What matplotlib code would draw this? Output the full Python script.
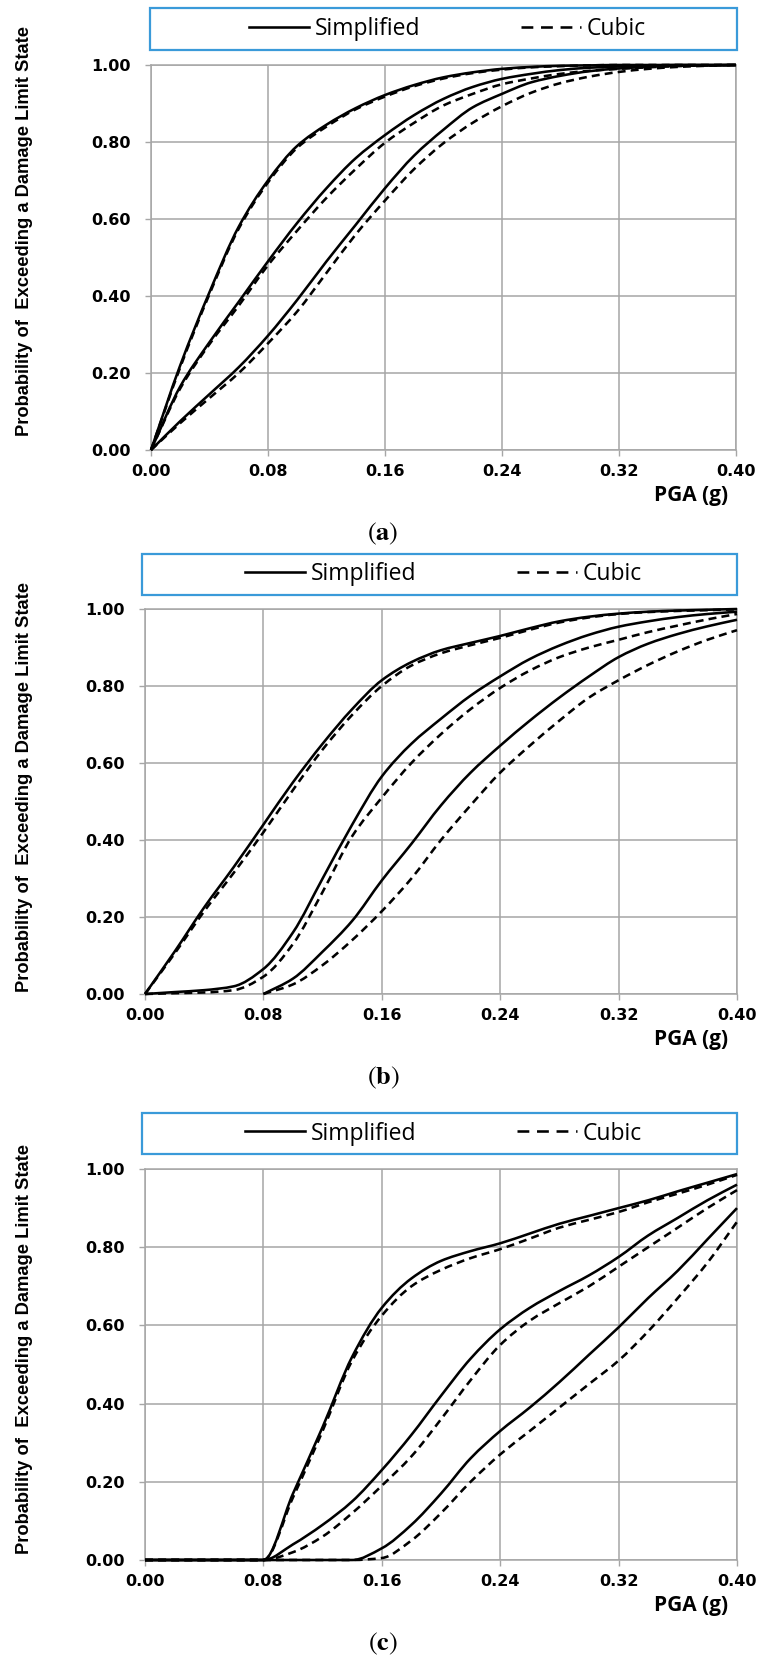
import matplotlib
matplotlib.use("Agg")
import numpy as np
import matplotlib.pyplot as plt
from matplotlib.lines import Line2D
from matplotlib.patches import Rectangle, PathPatch
from matplotlib.path import Path
from matplotlib import font_manager as fm

# ---------------- data ----------------
pga = [0.00, 0.02, 0.04, 0.06, 0.08, 0.10, 0.12, 0.14, 0.16, 0.18, 0.20,
       0.22, 0.24, 0.26, 0.28, 0.30, 0.32, 0.34, 0.36, 0.38, 0.40]
pga_late = [0.08, 0.10, 0.12, 0.14, 0.16, 0.18, 0.20, 0.22, 0.24, 0.26,
            0.28, 0.30, 0.32, 0.34, 0.36, 0.38, 0.40]

# panel (a)
a_simplified_1 = [0, 0.22, 0.41, 0.58, 0.70, 0.79, 0.845, 0.888, 0.922, 0.948, 0.968,
                  0.981, 0.99, 0.995, 0.998, 0.999, 1.0, 1.0, 1.0, 1.0, 1.0]
a_cubic_1 = [0, 0.215, 0.405, 0.575, 0.695, 0.785, 0.84, 0.885, 0.918, 0.945, 0.965,
             0.979, 0.988, 0.994, 0.997, 0.999, 1.0, 1.0, 1.0, 1.0, 1.0]
a_simplified_2 = [0, 0.165, 0.28, 0.385, 0.49, 0.59, 0.68, 0.758, 0.818, 0.87, 0.912,
                  0.943, 0.964, 0.977, 0.987, 0.993, 0.996, 0.998, 1.0, 1.0, 1.0]
a_cubic_2 = [0, 0.16, 0.275, 0.375, 0.48, 0.57, 0.655, 0.73, 0.798, 0.85, 0.895,
             0.925, 0.95, 0.965, 0.977, 0.985, 0.99, 0.994, 0.997, 0.999, 1.0]
a_simplified_3 = [0, 0.075, 0.145, 0.215, 0.297, 0.39, 0.49, 0.585, 0.68, 0.765, 0.832,
                  0.89, 0.925, 0.955, 0.972, 0.984, 0.991, 0.995, 0.998, 0.999, 1.0]
a_cubic_3 = [0, 0.07, 0.135, 0.2, 0.277, 0.36, 0.46, 0.56, 0.648, 0.73, 0.797,
             0.85, 0.893, 0.928, 0.953, 0.97, 0.982, 0.99, 0.995, 0.998, 1.0]

# panel (b)
b_simplified_1 = [0, 0.11, 0.225, 0.33, 0.44, 0.55, 0.65, 0.74, 0.815, 0.862, 0.893,
                  0.912, 0.93, 0.95, 0.968, 0.98, 0.988, 0.993, 0.996, 0.998, 1.0]
b_cubic_1 = [0, 0.105, 0.215, 0.315, 0.42, 0.53, 0.635, 0.725, 0.80, 0.853, 0.885,
             0.906, 0.925, 0.946, 0.965, 0.978, 0.987, 0.992, 0.995, 0.997, 0.999]
b_simplified_2 = [0, 0.005, 0.01, 0.02, 0.065, 0.16, 0.30, 0.44, 0.565, 0.65, 0.715,
                  0.775, 0.825, 0.87, 0.905, 0.933, 0.954, 0.968, 0.979, 0.987, 0.993]
b_cubic_2 = [0, 0.002, 0.004, 0.01, 0.045, 0.13, 0.265, 0.41, 0.51, 0.60, 0.675,
             0.74, 0.795, 0.84, 0.875, 0.90, 0.92, 0.94, 0.957, 0.973, 0.987]
b_simplified_3 = [0.0, 0.04, 0.11, 0.19, 0.295, 0.39, 0.49, 0.575, 0.645, 0.71,
                  0.77, 0.825, 0.875, 0.91, 0.935, 0.955, 0.972]
b_cubic_3 = [0.0, 0.025, 0.075, 0.14, 0.215, 0.30, 0.40, 0.49, 0.575, 0.645,
             0.71, 0.77, 0.815, 0.855, 0.89, 0.92, 0.945]

# panel (c)
c_simplified_1 = [0, 0, 0, 0, 0, 0.17, 0.34, 0.52, 0.645, 0.72, 0.765,
                  0.79, 0.81, 0.835, 0.86, 0.88, 0.90, 0.92, 0.943, 0.965, 0.987]
c_cubic_1 = [0, 0, 0, 0, 0, 0.16, 0.33, 0.51, 0.625, 0.70, 0.742,
             0.772, 0.795, 0.822, 0.85, 0.87, 0.89, 0.915, 0.937, 0.96, 0.985]
c_simplified_2 = [0, 0, 0, 0, 0, 0.04, 0.09, 0.15, 0.23, 0.32, 0.42,
                  0.515, 0.59, 0.645, 0.688, 0.728, 0.775, 0.83, 0.875, 0.92, 0.96]
c_cubic_2 = [0, 0, 0, 0, 0, 0.02, 0.06, 0.12, 0.19, 0.265, 0.36,
             0.46, 0.55, 0.612, 0.657, 0.70, 0.75, 0.80, 0.85, 0.90, 0.946]
c_simplified_3 = [0, 0, 0, 0, 0, 0, 0, 0, 0.03, 0.09, 0.17,
                  0.26, 0.33, 0.39, 0.455, 0.525, 0.595, 0.67, 0.74, 0.82, 0.90]
c_cubic_3 = [0, 0, 0, 0, 0, 0, 0, 0, 0.005, 0.05, 0.12,
             0.20, 0.27, 0.33, 0.39, 0.45, 0.51, 0.585, 0.67, 0.76, 0.865]

x_ticks = [0.00, 0.08, 0.16, 0.24, 0.32, 0.40]
x_tick_labels = ["0.00", "0.08", "0.16", "0.24", "0.32", "0.40"]
y_ticks = [0.0, 0.2, 0.4, 0.6, 0.8, 1.0]
y_tick_labels = ["0.00", "0.20", "0.40", "0.60", "0.80", "1.00"]
series_names = ["Simplified", "Cubic"]
x_title = "PGA (g)"
y_title = "Probability of  Exceeding a Damage Limit State"
captions = ["a", "b", "c"]

# ---------------- styling ----------------
W, H = 761, 1657
plt.rcParams["mathtext.fontset"] = "stix"
names = {f.name for f in fm.fontManager.ttflist}
narrow = "Liberation Sans Narrow" if "Liberation Sans Narrow" in names else "Liberation Sans"
legend_font = "Open Sans" if "Open Sans" in names else "DejaVu Sans"

GRID = "#A6A6A6"
BLUE = "#3A9AD9"
LW = 1.85
DASH = (0, (3.1, 2.0))

fig = plt.figure(figsize=(W / 100, H / 100), dpi=100)


def fig_rect(l, t, r, b):
    return [l / W, 1 - b / H, (r - l) / W, (b - t) / H]


def smooth_path(xs, ys):
    """Excel-style smoothed line: monotone cubic Hermite drawn as Bezier segments."""
    x = np.asarray(xs, float)
    y = np.asarray(ys, float)
    h = np.diff(x)
    d = np.diff(y) / h
    m = np.zeros_like(y)
    m[0], m[-1] = d[0], d[-1]
    for k in range(1, len(x) - 1):
        if d[k - 1] * d[k] <= 0:
            m[k] = 0.0
        else:
            w1 = 2 * h[k] + h[k - 1]
            w2 = h[k] + 2 * h[k - 1]
            m[k] = (w1 + w2) / (w1 / d[k - 1] + w2 / d[k])
    verts = [(x[0], y[0])]
    codes = [Path.MOVETO]
    for k in range(len(x) - 1):
        verts += [(x[k] + h[k] / 3, y[k] + m[k] * h[k] / 3),
                  (x[k + 1] - h[k] / 3, y[k + 1] - m[k + 1] * h[k] / 3),
                  (x[k + 1], y[k + 1])]
        codes += [Path.CURVE4] * 3
    return Path(verts, codes)


panels = [
    dict(ax=(151, 65, 736, 450), leg=(150, 8, 737, 50), ydy=-27,
         curves=[(pga, a_simplified_1, a_cubic_1, pga),
                 (pga, a_simplified_2, a_cubic_2, pga),
                 (pga, a_simplified_3, a_cubic_3, pga)]),
    dict(ax=(145, 609, 737, 994), leg=(142, 554, 737, 595), ydy=-15,
         curves=[(pga, b_simplified_1, b_cubic_1, pga),
                 (pga, b_simplified_2, b_cubic_2, pga),
                 (pga_late, b_simplified_3, b_cubic_3, pga_late)]),
    dict(ax=(145, 1169, 737, 1560), leg=(142, 1113, 737, 1154), ydy=-15,
         curves=[(pga, c_simplified_1, c_cubic_1, pga),
                 (pga, c_simplified_2, c_cubic_2, pga),
                 (pga, c_simplified_3, c_cubic_3, pga)]),
]

ylabels = []
for i, p in enumerate(panels):
    l, t, r, b = p["ax"]
    ax = fig.add_axes(fig_rect(l, t, r, b))
    for xs, ys_s, ys_c, xc in p["curves"]:
        ax.add_patch(PathPatch(smooth_path(xs, ys_s), fill=False, edgecolor="black",
                               lw=LW, capstyle="butt", zorder=3, clip_on=False))
        ax.add_patch(PathPatch(smooth_path(xc, ys_c), fill=False, edgecolor="black",
                               lw=LW, linestyle=DASH, zorder=3, clip_on=False))
    ax.set_xlim(0, 0.40)
    ax.set_ylim(0, 1.0)
    ax.set_xticks(x_ticks, labels=x_tick_labels, fontweight="bold")
    ax.set_yticks(y_ticks, labels=y_tick_labels, fontweight="bold")
    ax.tick_params(axis="x", length=4, width=1.0, color=GRID, pad=6,
                   labelsize=11.5, labelcolor="black")
    ax.tick_params(axis="y", length=4.5, width=1.0, color=GRID, pad=10,
                   labelsize=11.5, labelcolor="black")
    ax.grid(True, color=GRID, lw=1.1)
    ax.set_axisbelow(True)
    for s in ax.spines.values():
        s.set_color(GRID)
        s.set_linewidth(1.1)

    # legend frame + legend
    ll, lt, lr, lb = p["leg"]
    fig.add_artist(Rectangle((ll / W, 1 - lb / H), (lr - ll) / W, (lb - lt) / H,
                             transform=fig.transFigure, facecolor="white",
                             edgecolor=BLUE, lw=1.6))
    h1 = Line2D([], [], color="black", lw=LW)
    h2 = Line2D([], [], color="black", lw=LW, linestyle=(0, (4.6, 3.0)))
    fig.legend([h1, h2], series_names, loc="center",
               bbox_to_anchor=((ll + lr) / 2 / W + 4 / W, 1 - (lt + lb) / 2 / H),
               bbox_transform=fig.transFigure, ncol=2, frameon=False,
               handlelength=2.6, handletextpad=0.25, columnspacing=4.4,
               prop=dict(family=legend_font, size=16.5))

    # x title
    fig.text(728 / W, 1 - (b + 45) / H, x_title, ha="right", va="center",
             family=legend_font, fontsize=15, fontweight="bold")
    # y title
    cy = (t + b) / 2 + p["ydy"]
    yl = fig.text(25 / W, 1 - cy / H, y_title, rotation=90, ha="center",
                  va="center", family=[narrow, "DejaVu Sans"], fontsize=17,
                  fontweight="bold")
    ylabels.append(yl)
    # caption
    fig.text(383 / W, 1 - (b + 84) / H, r"$(\mathbf{%s})$" % captions[i],
             ha="center", va="center", fontsize=19)

# fit y-title length to ~412 px
fig.canvas.draw()
ext = ylabels[0].get_window_extent()
scale = 412 / ext.height
for yl in ylabels:
    yl.set_fontsize(17 * scale)

fig.savefig("out.png", dpi=100)
